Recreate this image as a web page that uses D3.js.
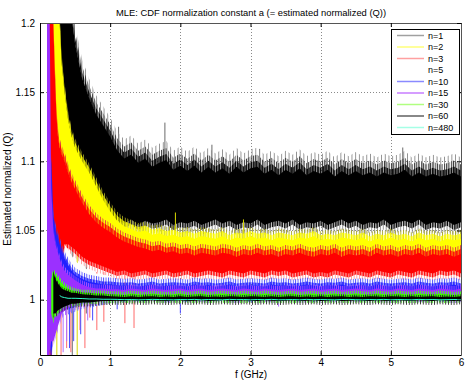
<!DOCTYPE html>
<html><head><meta charset="utf-8">
<script src="https://cdn.jsdelivr.net/npm/d3@7"></script>
<style>body{margin:0;background:#fff} text{font-family:"Liberation Sans",Arial,sans-serif}</style>
</head><body><svg id="c" width="469" height="382"></svg>
<script>
// ---------------- data ----------------
const freq = [0.10,0.13,0.16,0.19,0.22,0.25,0.28,0.31,0.35,0.40,0.45,0.50,0.60,0.70,0.80,0.90,1.00,
  1.1,1.2,1.3,1.4,1.5,1.6,1.7,1.8,1.9,2.0,2.1,2.2,2.3,2.4,2.5,2.6,2.7,2.8,2.9,3.0,
  3.1,3.2,3.3,3.4,3.5,3.6,3.7,3.8,3.9,4.0,4.1,4.2,4.3,4.4,4.5,4.6,4.7,4.8,4.9,5.0,
  5.1,5.2,5.3,5.4,5.5,5.6,5.7,5.8,5.9,6.0];

const seriesNames = ["n=1","n=2","n=3","n=5","n=10","n=15","n=30","n=60","n=480"];

// upper / lower envelope of each noisy trace
const n1Hi = [1.25,1.25,1.25,1.25,1.25,1.25,1.25,1.25,1.25,1.22,1.205,1.185,1.16,1.146,1.134,1.126,1.118,
  1.108,1.102,1.105,1.099,1.102,1.096,1.099,1.101,1.094,1.097,
  1.093,1.097,1.092,1.096,1.092,1.095,1.091,1.096,1.092,1.095,
  1.096,1.091,1.094,1.09,1.094,1.091,1.095,1.09,1.093,1.091,
  1.094,1.089,1.093,1.09,1.093,1.09,1.092,1.089,1.092,1.09,
  1.091,1.094,1.089,1.092,1.089,1.091,1.089,1.09,1.092,1.089];
const n1Lo = [1.0,1.0,1.02,1.04,1.06,1.07,1.075,1.08,1.08,1.075,1.07,1.068,1.064,1.062,1.06,1.059,1.058,
  1.057,1.055,1.058,1.054,1.057,1.055,1.056,1.058,1.054,1.056,
  1.055,1.057,1.054,1.056,1.058,1.055,1.057,1.054,1.056,1.055,
  1.058,1.054,1.056,1.057,1.055,1.058,1.054,1.056,1.055,1.057,
  1.054,1.056,1.058,1.055,1.057,1.054,1.056,1.055,1.058,1.054,
  1.056,1.057,1.055,1.058,1.054,1.056,1.055,1.057,1.054,1.056];

const n2Hi = [1.25,1.25,1.25,1.25,1.25,1.25,1.2,1.17,1.15,1.13,1.118,1.11,1.1,1.092,1.082,1.072,1.064,
  1.057,1.053,1.051,1.049,1.05,1.047,1.048,1.046,1.047,1.045,
  1.046,1.044,1.046,1.045,1.044,1.046,1.043,1.045,1.044,1.046,
  1.044,1.045,1.043,1.045,1.044,1.043,1.045,1.044,1.046,1.043,
  1.044,1.043,1.045,1.044,1.043,1.045,1.042,1.044,1.043,1.045,
  1.043,1.044,1.042,1.045,1.043,1.044,1.042,1.044,1.043,1.044];
const n2Lo = [0.96,1.0,0.98,0.97,0.99,1.02,1.04,1.045,1.05,1.05,1.048,1.045,1.042,1.04,1.038,1.036,1.035,
  1.032,1.03,1.033,1.029,1.031,1.034,1.03,1.032,1.029,1.033,
  1.031,1.029,1.033,1.03,1.032,1.034,1.029,1.031,1.033,1.03,
  1.032,1.029,1.031,1.034,1.03,1.033,1.029,1.032,1.03,1.031,
  1.033,1.029,1.032,1.03,1.034,1.031,1.029,1.033,1.03,1.032,
  1.029,1.031,1.034,1.03,1.032,1.029,1.033,1.031,1.03,1.032];

const n3Hi = [1.25,1.25,1.25,1.2,1.15,1.12,1.11,1.105,1.1,1.092,1.085,1.08,1.07,1.062,1.056,1.052,1.049,
  1.045,1.042,1.04,1.038,1.037,1.035,1.036,1.034,1.035,1.033,
  1.034,1.032,1.034,1.033,1.032,1.034,1.033,1.031,1.033,1.032,
  1.034,1.032,1.033,1.031,1.033,1.032,1.034,1.032,1.031,1.033,
  1.032,1.034,1.031,1.033,1.032,1.033,1.031,1.034,1.032,1.033,
  1.031,1.033,1.032,1.034,1.031,1.033,1.032,1.033,1.031,1.033];
const n3Lo = [0.96,0.96,0.96,0.98,0.99,1.0,1.01,1.025,1.04,1.04,1.038,1.036,1.031,1.028,1.026,1.024,1.022,
  1.02,1.021,1.019,1.02,1.021,1.019,1.02,1.021,1.019,1.02,
  1.021,1.019,1.02,1.021,1.02,1.019,1.021,1.02,1.019,1.021,
  1.02,1.019,1.021,1.02,1.021,1.019,1.02,1.021,1.019,1.02,
  1.019,1.021,1.02,1.019,1.021,1.02,1.019,1.021,1.02,1.019,
  1.021,1.02,1.019,1.021,1.02,1.019,1.021,1.02,1.021,1.019];

const n5Hi = [null,null,null,null,null,null,null,null,1.04,1.036,1.032,1.028,1.024,1.021,1.019,1.018,1.017,
  1.0145,1.0145,1.015,1.0145,1.014,1.0145,1.015,1.0145,1.014,1.0145,
  1.0145,1.015,1.0145,1.014,1.0145,1.015,1.0145,1.014,1.0145,1.015,
  1.0145,1.014,1.0145,1.015,1.0145,1.014,1.0145,1.015,1.0145,1.014,
  1.0145,1.015,1.0145,1.014,1.0145,1.015,1.0145,1.014,1.0145,1.015,
  1.0145,1.014,1.0145,1.015,1.0145,1.014,1.0145,1.015,1.0145,1.014];
const n5Lo = [null,null,null,null,null,null,null,null,1.015,1.014,1.013,1.013,1.013,1.013,1.013,1.013,1.013,
  1.0125,1.013,1.012,1.0125,1.013,1.012,1.0125,1.013,1.0125,1.012,
  1.013,1.0125,1.012,1.013,1.0125,1.013,1.012,1.0125,1.013,1.012,
  1.0125,1.013,1.012,1.0125,1.013,1.0125,1.012,1.013,1.0125,1.012,
  1.013,1.012,1.0125,1.013,1.012,1.0125,1.013,1.012,1.0125,1.013,
  1.012,1.0125,1.013,1.012,1.0125,1.013,1.012,1.0125,1.013,1.0125];

const n10Hi = [1.08,1.06,1.1,1.06,1.05,1.045,1.04,1.035,1.03,1.025,1.021,1.018,1.015,1.013,1.012,1.011,1.011,
  1.0105,1.01,1.0105,1.0095,1.01,1.011,1.0095,1.01,1.0105,1.01,
  1.0095,1.011,1.01,1.0105,1.0095,1.01,1.011,1.0095,1.01,1.0105,
  1.01,1.0095,1.011,1.01,1.0105,1.0095,1.01,1.011,1.01,1.0095,
  1.0105,1.01,1.011,1.0095,1.01,1.0105,1.0095,1.011,1.01,1.0095,
  1.01,1.0105,1.0095,1.011,1.01,1.0095,1.0105,1.01,1.011,1.0095];
const n10Lo = [0.96,0.97,0.96,0.975,0.985,0.99,0.992,0.993,0.995,0.995,0.996,0.997,0.999,1.0,1.001,1.002,1.003,
  1.0045,1.004,1.005,1.0045,1.004,1.005,1.0045,1.004,1.005,1.0045,
  1.004,1.005,1.0045,1.004,1.0045,1.005,1.004,1.0045,1.005,1.004,
  1.0045,1.005,1.004,1.0045,1.005,1.004,1.0045,1.005,1.004,1.0045,
  1.005,1.004,1.0045,1.005,1.004,1.0045,1.005,1.004,1.0045,1.005,
  1.004,1.0045,1.005,1.004,1.0045,1.005,1.004,1.0045,1.005,1.004];

const n15Hi = [1.25,1.25,1.08,1.05,1.04,1.035,1.03,1.025,1.021,1.018,1.016,1.014,1.011,1.009,1.008,1.008,1.0075,
  1.0075,1.007,1.008,1.0075,1.007,1.008,1.0075,1.007,1.0075,1.008,
  1.007,1.0075,1.008,1.007,1.0075,1.008,1.0075,1.007,1.008,1.0075,
  1.007,1.008,1.0075,1.007,1.0075,1.008,1.007,1.0075,1.008,1.007,
  1.0075,1.008,1.007,1.0075,1.008,1.0075,1.007,1.008,1.0075,1.007,
  1.008,1.0075,1.007,1.008,1.0075,1.007,1.008,1.0075,1.007,1.008];
const n15Lo = [0.96,0.96,0.97,0.97,0.975,0.98,0.985,0.99,0.992,0.994,0.995,0.996,0.998,0.999,1.0,1.001,1.001,
  1.0015,1.001,1.002,1.0015,1.001,1.002,1.0015,1.001,1.0015,1.002,
  1.001,1.0015,1.002,1.001,1.0015,1.002,1.0015,1.001,1.002,1.0015,
  1.001,1.002,1.0015,1.001,1.0015,1.002,1.001,1.0015,1.002,1.001,
  1.0015,1.002,1.001,1.0015,1.002,1.0015,1.001,1.002,1.0015,1.001,
  1.002,1.0015,1.001,1.002,1.0015,1.001,1.002,1.0015,1.001,1.002];

const n30Hi = [null,null,1.015,1.02,1.018,1.016,1.014,1.012,1.01,1.008,1.007,1.006,1.005,1.005,1.0045,1.0045,1.004,
  1.004,1.0035,1.0045,1.004,1.0035,1.0045,1.004,1.0035,1.004,1.0045,
  1.0035,1.004,1.0045,1.0035,1.004,1.0045,1.004,1.0035,1.0045,1.004,
  1.0035,1.0045,1.004,1.0035,1.004,1.0045,1.0035,1.004,1.0045,1.0035,
  1.004,1.0045,1.0035,1.004,1.0045,1.004,1.0035,1.0045,1.004,1.0035,
  1.0045,1.004,1.0035,1.0045,1.004,1.0035,1.0045,1.004,1.0035,1.004];
const n30Lo = [null,null,0.99,0.985,0.99,0.99,0.993,0.995,0.996,0.997,0.997,0.998,0.998,0.999,0.999,0.9995,0.9995,
  0.9995,1.0,0.9995,1.0,0.9995,1.0,1.0,0.9995,1.0,0.9995,
  1.0,0.9995,1.0,0.9995,1.0,1.0,0.9995,1.0,0.9995,1.0,
  0.9995,1.0,1.0,0.9995,1.0,0.9995,1.0,1.0,0.9995,1.0,
  1.0,0.9995,1.0,0.9995,1.0,1.0,0.9995,1.0,0.9995,1.0,
  0.9995,1.0,0.9995,1.0,1.0,0.9995,1.0,0.9995,1.0,1.0];

const n60Hi = [null,null,null,1.02,1.015,1.012,1.01,1.008,1.007,1.006,1.005,1.005,1.004,1.0035,1.003,1.003,1.0025,
  1.0022,1.002,1.0025,1.002,1.0022,1.0025,1.002,1.0022,1.002,1.0025,
  1.002,1.0022,1.0025,1.002,1.0022,1.002,1.0025,1.0022,1.002,1.0025,
  1.0022,1.002,1.0025,1.002,1.0022,1.0025,1.002,1.0022,1.002,1.0025,
  1.002,1.0022,1.0025,1.002,1.0022,1.002,1.0025,1.0022,1.002,1.0025,
  1.0022,1.002,1.0025,1.002,1.0022,1.0025,1.002,1.0022,1.002,1.0025];
const n60Lo = [null,null,null,0.99,0.99,0.992,0.993,0.994,0.995,0.996,0.997,0.997,0.998,0.998,0.9985,0.999,0.999,
  0.9993,0.999,0.9995,0.9993,0.999,0.9995,0.9993,0.999,0.9993,0.9995,
  0.999,0.9993,0.9995,0.999,0.9993,0.9995,0.9993,0.999,0.9995,0.9993,
  0.999,0.9995,0.9993,0.999,0.9993,0.9995,0.999,0.9993,0.9995,0.999,
  0.9993,0.9995,0.999,0.9993,0.9995,0.9993,0.999,0.9995,0.9993,0.999,
  0.9995,0.9993,0.999,0.9995,0.9993,0.999,0.9995,0.9993,0.999,0.9995];

const n480 = [null,null,null,null,null,null,1.003,1.002,1.0015,1.001,1.001,1.001,1.0008,1.0005,1.0005,1.0003,1.0003,
  1.0002,1.0,1.0001,0.9999,1.0,1.0002,1.0001,1.0,0.9999,1.0001,
  1.0,1.0002,0.9999,1.0001,1.0,0.9999,1.0002,1.0,1.0001,0.9999,
  1.0001,1.0,1.0002,0.9999,1.0,1.0001,0.9999,1.0002,1.0,1.0001,
  1.0,0.9999,1.0001,1.0002,1.0,0.9999,1.0001,1.0,1.0002,0.9999,
  1.0001,1.0,0.9999,1.0002,1.0,1.0001,0.9999,1.0,1.0001,1.0];

// isolated long spikes: [f, from, to]
const n1Spikes  = [[0.46,1.06,0.96],[0.66,1.06,0.99],[1.12,1.1,1.125],[1.78,1.095,1.128],[2.45,1.09,1.112],[3.13,1.09,1.109],[5.17,1.088,1.11]];
const n2Spikes  = [[0.53,1.04,0.96],[0.24,1.02,0.96],[1.93,1.045,1.063],[2.9,1.043,1.058]];
const n3Spikes  = [[0.30,1.01,0.96],[0.38,1.03,0.965],[0.44,1.03,0.962],[0.57,1.02,0.978],[0.64,1.02,0.965],
                   [0.71,1.02,0.987],[0.81,1.02,0.978],[0.91,1.02,0.984],[1.21,1.02,0.983],[1.34,1.02,0.9795]];
const n10Spikes = [[0.42,0.995,0.965],[0.48,0.996,0.97],[0.58,0.998,0.975],[0.75,1.0,0.985],[2.0,1.004,0.99],[1.1,1.004,0.993]];
const n15Spikes = [[0.33,0.99,0.962],[0.38,0.993,0.97],[0.68,0.998,0.985],[3.4,1.001,0.995]];

const xTicks = [0,1,2,3,4,5,6];
const xTickLabels = ["0","1","2","3","4","5","6"];
const yTicks = [1,1.05,1.1,1.15,1.2];
const yTickLabels = ["1","1.05","1.1","1.15","1.2"];

// ---------------- styles ----------------
const fillColors  = ["#000000","#ffff00","#ff0000","#ffffff","#2020ff","#9b30ff","#3cff00","#000000","#33ffcc"];
const spikeColors = ["#6a6a6a","#d8d800","#ff6a6a",null,"#4a4aff","#b070ff",null,null,null];
const legendColors= ["#a0a0a0","#ffff7a","#ffa0a0","#ffffff","#8a8aff","#c77dff","#b0ff80","#606060","#a6ffe6"];
// hair textures along the envelopes: [length px, period px, hair width, colour]
const hairStyles = [
  {hi:[[19,3.7,0.9,"#8c8c8c"],[12,2.3,1,"#3a3a3a"],[6,1.6,1,"#000"]], lo:[[10,2.9,0.9,"#8a8a8a"],[5,1.7,1,"#000"]]},
  {hi:[[9,2.6,0.9,"#a8a820"],[5,1.5,1,"#ffff00"]], lo:[[4,1.5,1,"#ffff00"]]},
  {hi:[[9,2.5,0.9,"#e04040"],[5,1.5,1,"#ff0000"]], lo:[[8,2.7,0.9,"#ff9a9a"],[4,1.6,1,"#ff0000"]]},
  {hi:[], lo:[]},
  {hi:[[7,2.4,0.9,"#4a4aff"],[3,1.5,1,"#2020ff"]], lo:[[8,3.1,0.9,"#6060ff"],[3,1.6,1,"#2020ff"]]},
  {hi:[[4,2.1,0.9,"#a850ff"]], lo:[[5,2.6,0.9,"#b070ff"]]},
  {hi:[[3,2,0.9,"#50ff20"]], lo:[[3,2.4,0.9,"#50ff20"]]},
  {hi:[[2,2.2,0.9,"#222"]], lo:[[4,2.8,0.9,"#333"]]},
  {hi:[], lo:[]}
];

const hiArrays = [n1Hi,n2Hi,n3Hi,n5Hi,n10Hi,n15Hi,n30Hi,n60Hi,n480];
const loArrays = [n1Lo,n2Lo,n3Lo,n5Lo,n10Lo,n15Lo,n30Lo,n60Lo,null];
const spikeArrays = [n1Spikes,n2Spikes,n3Spikes,null,n10Spikes,n15Spikes,null,null,null];

// ---------------- layout ----------------
const L = 40, R = 461, T = 23, B = 355;
const svg = d3.select("#c");
const x = d3.scaleLinear().domain([0,6]).range([L,R]);
const y = d3.scaleLinear().domain([0.96,1.2]).range([B,T]);

svg.append("rect").attr("x",0).attr("y",0).attr("width",469).attr("height",382).attr("fill","#fff");
const defs = svg.append("defs");

// grid
const grid = svg.append("g").attr("stroke","#8a8a8a").attr("stroke-width",1).attr("stroke-dasharray","1,2");
xTicks.filter(t=>t>0&&t<6).forEach(t=>{
  grid.append("line").attr("x1",Math.round(x(t))+0.5).attr("x2",Math.round(x(t))+0.5).attr("y1",T).attr("y2",B);
});
yTicks.filter(t=>t<1.2).forEach(t=>{
  grid.append("line").attr("y1",Math.round(y(t))+0.5).attr("y2",Math.round(y(t))+0.5).attr("x1",L).attr("x2",R);
});

defs.append("clipPath").attr("id","clip").append("rect").attr("x",L).attr("y",T).attr("width",R-L).attr("height",B-T);
const plot = svg.append("g").attr("clip-path","url(#clip)");

function hairPattern(id, period, w, color){
  const p = defs.append("pattern").attr("id",id).attr("patternUnits","userSpaceOnUse")
    .attr("width",period).attr("height",4).attr("x",0).attr("y",0);
  p.append("rect").attr("x",0).attr("y",0).attr("width",w).attr("height",4).attr("fill",color);
}

seriesNames.forEach((name,k)=>{
  const hi = hiArrays[k], lo = loArrays[k];
  const g = plot.append("g");
  if (spikeArrays[k]) {
    g.selectAll("line.sp").data(spikeArrays[k]).join("line")
      .attr("x1",d=>x(d[0])).attr("x2",d=>x(d[0])).attr("y1",d=>y(d[1])).attr("y2",d=>y(d[2]))
      .attr("stroke",spikeColors[k]).attr("stroke-width",1);
  }
  if (lo) {
    const data = freq.map((f,i)=>({f, hi: hi[i], lo: lo[i]}));
    const def = d => d.hi != null && d.lo != null;
    hairStyles[k].lo.forEach((c,j)=>{
      const id = `h${k}lo${j}`; hairPattern(id, c[1], c[2], c[3]);
      const a = d3.area().defined(def).x(d=>x(d.f)).y0(d=>y(d.lo)-1).y1(d=>y(d.lo)+c[0]);
      g.append("path").datum(data).attr("d",a).attr("fill",`url(#${id})`);
    });
    hairStyles[k].hi.forEach((c,j)=>{
      const id = `h${k}hi${j}`; hairPattern(id, c[1], c[2], c[3]);
      const a = d3.area().defined(def).x(d=>x(d.f)).y0(d=>y(d.hi)+1).y1(d=>y(d.hi)-c[0]);
      g.append("path").datum(data).attr("d",a).attr("fill",`url(#${id})`);
    });
    const area = d3.area().defined(def).x(d=>x(d.f)).y0(d=>y(d.lo)).y1(d=>y(d.hi));
    g.append("path").datum(data).attr("d",area).attr("fill",fillColors[k]).attr("stroke","none");
  } else {
    const data = freq.map((f,i)=>({f, v: hi[i]}));
    const line = d3.line().defined(d=>d.v!=null).x(d=>x(d.f)).y(d=>y(d.v));
    g.append("path").datum(data).attr("d",line).attr("fill","none").attr("stroke",fillColors[k]).attr("stroke-width",1);
  }
});

// axes
const fs = "10px";
const ax = svg.append("g").attr("transform",`translate(0,${B})`)
  .call(d3.axisBottom(x).tickValues(xTicks).tickFormat((d,i)=>xTickLabels[i]).tickSize(-4).tickSizeOuter(0).tickPadding(4));
const ay = svg.append("g").attr("transform",`translate(${L},0)`)
  .call(d3.axisLeft(y).tickValues(yTicks).tickFormat((d,i)=>yTickLabels[i]).tickSize(-4).tickSizeOuter(0).tickPadding(5));
const at = svg.append("g").attr("transform",`translate(0,${T})`)
  .call(d3.axisTop(x).tickValues(xTicks).tickFormat("").tickSize(-4).tickSizeOuter(0));
const ar = svg.append("g").attr("transform",`translate(${R},0)`)
  .call(d3.axisRight(y).tickValues(yTicks).tickFormat("").tickSize(-4).tickSizeOuter(0));
[ax,ay,at,ar].forEach(g=>{
  g.selectAll("text").attr("font-size",fs).attr("fill","#000").style("font-family","'Liberation Sans',Arial,sans-serif");
  g.selectAll("line,path").attr("stroke","#000");
  g.attr("font-size",fs);
});
at.selectAll("path").attr("stroke","#555");
ar.selectAll("path").attr("stroke","#555");

// titles
svg.append("text").attr("x",251).attr("y",15.5).attr("text-anchor","middle").attr("font-size","9.4px")
  .text("MLE: CDF normalization constant a (= estimated normalized (Q))");
svg.append("text").attr("x",251).attr("y",378).attr("text-anchor","middle").attr("font-size","10px").text("f (GHz)");
svg.append("text").attr("transform","translate(11,189) rotate(-90)").attr("text-anchor","middle").attr("font-size","10px")
  .text("Estimated normalized (Q)");

// legend
const lg = svg.append("g");
lg.append("rect").attr("x",391.5).attr("y",29.5).attr("width",68).attr("height",105).attr("fill","#fff").attr("stroke","#000").attr("stroke-width",1);
seriesNames.forEach((name,k)=>{
  const yy = 35.5 + k*11.5;
  lg.append("line").attr("x1",397).attr("x2",424).attr("y1",yy).attr("y2",yy).attr("stroke",legendColors[k]).attr("stroke-width",1.5);
  lg.append("text").attr("x",428).attr("y",yy).attr("dy","0.35em").attr("font-size","9px").text(name);
});
</script>
</body></html>
